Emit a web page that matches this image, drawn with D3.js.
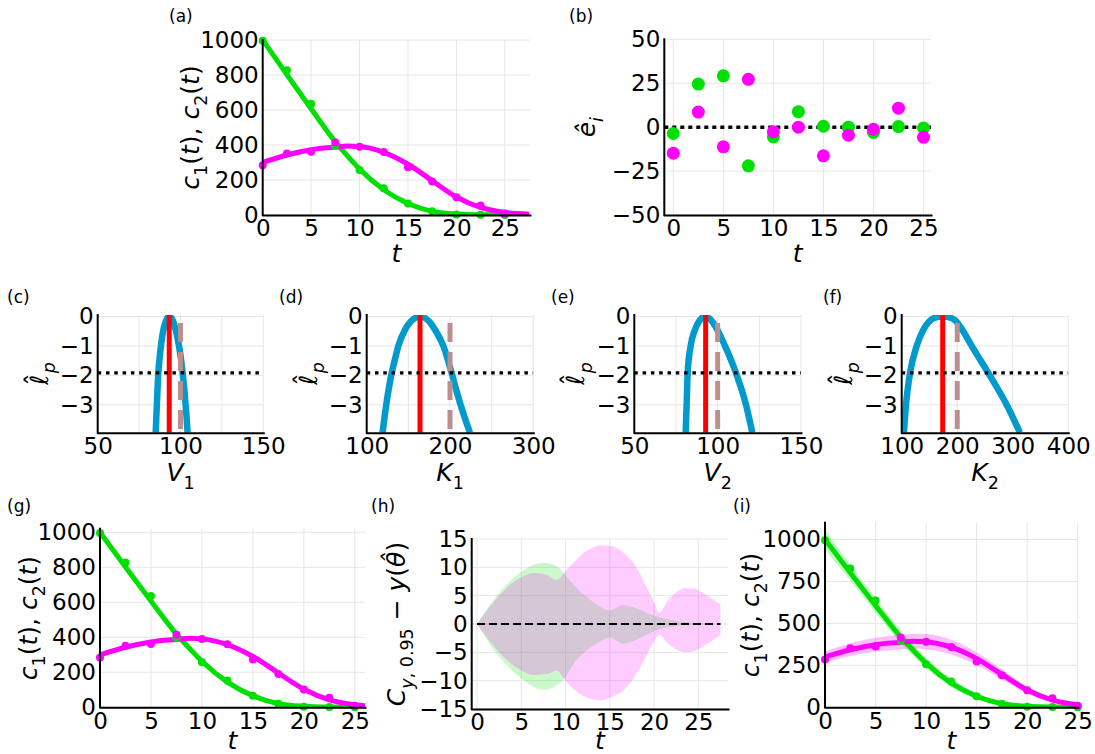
<!DOCTYPE html>
<html lang="en">
<head>
<meta charset="UTF-8" />
<title>Profile likelihood figure</title>
<style>
  body { margin: 0; background: #fff; }
  svg text { font-family: "DejaVu Sans", sans-serif; fill: #000; }
</style>
</head>
<body>
<script src="https://cdn.jsdelivr.net/npm/d3@7"></script>
<script>
// --- data ---
var tObs = [0, 2.5, 5, 7.5, 10, 12.5, 15, 17.5, 20, 22.5, 25];
var c1Obs = [996, 827, 636, 396, 257, 153, 66, 21, 3, 2, 0];
var c2Obs = [285, 352, 362, 414, 390, 360, 273, 191, 102, 54, 9];

// residuals, panel (b)
var e1 = [-3.6, 24.5, 29.2, -22, -5.5, 8.8, 0.5, 0, -3, 0.3, -0.5];
var e2 = [-14.8, 8.6, -11.2, 27.2, -2.6, 0, -16.3, -4.6, -1.2, 10.8, -5.8];

// fitted model curves
var tFit = [0, 2.5, 5, 7.5, 8.75, 10, 12.5, 15, 17.5, 20, 22.5, 25, 27.5];
var c1Fit = [1000, 802, 607, 418, 338, 263, 144, 66, 21, 6, 1.5, 0.4, 0.1];
var c2Fit = [300, 343, 373, 388, 394, 391, 358, 290, 196, 103, 43, 15, 5];

// prediction bands, panel (i)
var c1Lo = [940, 755, 565, 380, 305, 232, 120, 50, 13, 3, 0.5, 0, 0];
var c1Hi = [1060, 850, 650, 458, 372, 296, 170, 84, 30, 10, 3, 1, 0.3];
var c2Lo = [268, 305, 332, 345, 350, 346, 315, 252, 166, 84, 31, 8, 2];
var c2Hi = [332, 381, 414, 432, 438, 437, 402, 328, 226, 122, 56, 23, 9];

// confidence sets minus MLE solution, panel (h)
var tG = [0, 2.5, 5, 7.5, 9, 10, 11, 12, 13.5, 15, 16.5, 18, 20, 22, 24, 25, 27.5];
var gHi = [0, 5.5, 9.2, 10.8, 10.2, 8.6, 6.8, 5.3, 3.5, 2.4, 3.3, 2.8, 1.5, 0.7, 0.25, 0.1, 0];
var gLo = [0, -5.8, -9.6, -11.6, -10.8, -9.4, -6.8, -5.2, -3.5, -2.4, -3.5, -2.8, -1.3, -0.5, -0.15, -0.05, 0];
var tM = [0, 2.5, 5, 6.5, 8, 9, 10, 11, 12, 13, 14, 15, 16, 17, 18, 19, 20, 20.6, 21.5, 22.5, 23.5, 24.5, 25.5, 26.5, 27.5];
var mHi = [0, 5, 8.3, 9, 8.6, 7.8, 9.3, 11, 12.5, 13.4, 13.9, 13.8, 13.2, 12.0, 10.0, 7.0, 3.8, 2.0, 4.0, 5.6, 6.3, 6.2, 5.5, 4.5, 3.4];
var mLo = [0, -5, -8.2, -9, -8.8, -8.2, -10, -11.6, -12.7, -13.3, -13.5, -13.0, -12.3, -11, -8.8, -6, -3.0, -1.9, -3.3, -4.5, -5.0, -4.8, -4, -3, -1.9];
var tZero = [0, 27.5];

// profile likelihoods
var pV1 = [85.0, 85.8, 86.6, 87.4, 88.3, 89.5, 91.0, 92.2, 93.2, 94.5, 96.0, 97.5, 99.1, 100.3, 101.3, 102.5, 103.5, 104.3];
var lV1 = [-3.95, -2.9, -1.92, -1.4, -0.95, -0.5, -0.18, -0.04, 0, -0.05, -0.24, -0.55, -1.0, -1.45, -1.92, -2.6, -3.3, -3.95];
var pK1 = [119, 124, 130, 134, 138, 146, 152, 158, 164, 170, 176, 182, 192, 202, 208, 216, 224];
var lK1 = [-3.95, -2.9, -1.92, -1.45, -1.0, -0.45, -0.2, -0.05, 0, -0.05, -0.2, -0.45, -1.0, -1.92, -2.55, -3.3, -3.95];
var pV2 = [80.8, 81.4, 82.0, 83.8, 86.4, 89.0, 92.8, 96.0, 99.5, 104.4, 111.0, 117.0, 120.8];
var lV2 = [-3.95, -3.0, -1.92, -1.0, -0.45, -0.15, 0, -0.12, -0.42, -1.0, -1.92, -3.0, -3.95];
var pK2 = [104, 107.7, 115, 127, 139, 151, 162, 173.8, 186, 196, 208, 226, 256, 289, 313];
var lK2 = [-3.95, -3.0, -1.92, -1.0, -0.45, -0.14, -0.03, 0, -0.03, -0.13, -0.42, -1.0, -1.92, -3.0, -3.95];
var mle = [93.2, 164, 92.8, 173.8];
var truth = [100, 200, 100, 200];
var threshold = -1.92;

// --- drawing ---
var GREEN = "#00e000", MAGENTA = "#ff00ff", BLUE = "#009acd", RED = "#ff0000", ROSY = "#bc8f8f";
var tickFont = 23, labFont = 25;

var svg = d3.select("body").append("svg").attr("width", 1095).attr("height", 754);
var defs = svg.append("defs");

// parts: [text, flags]; i = italic, s = subscript, h = hat placed over previous glyph
function richText(sel, parts, size) {
  var shift = 0;
  parts.forEach(function (pt) {
    var st = pt[1] || "";
    var ts = sel.append("tspan").text(pt[0]);
    if (st.indexOf("i") >= 0) ts.attr("font-style", "italic");
    var want = 0;
    if (st.indexOf("s") >= 0) want = size * 0.3;
    if (st.indexOf("h") >= 0) { want = -size * 0.2; ts.attr("dx", -size * 0.44); }
    if (want !== shift) { ts.attr("dy", want - shift); shift = want; }
    if (st.indexOf("s") >= 0) ts.attr("font-size", size * 0.7);
  });
}

function makePanel(p) {
  var x = d3.scaleLinear().domain(p.xd).range([p.left, p.right]);
  var y = d3.scaleLinear().domain(p.yd).range([p.bottom, p.top]);
  var root = svg.append("g");
  var grid = root.append("g").attr("stroke", "#e6e6e6").attr("stroke-width", 1);
  grid.selectAll(".gx").data(p.xgrid || p.xt).enter().append("line")
    .attr("x1", function (d) { return x(d); }).attr("x2", function (d) { return x(d); })
    .attr("y1", p.top).attr("y2", p.bottom);
  grid.selectAll(".gy").data(p.ygrid || p.yt).enter().append("line")
    .attr("y1", function (d) { return y(d); }).attr("y2", function (d) { return y(d); })
    .attr("x1", p.left).attr("x2", p.right);

  defs.append("clipPath").attr("id", "clip-" + p.id).append("rect")
    .attr("x", p.left).attr("y", p.top)
    .attr("width", p.right - p.left).attr("height", p.bottom - p.top);
  var marks = root.append("g").attr("clip-path", "url(#clip-" + p.id + ")");
  var free = root.append("g");
  var axes = root.append("g");

  var ax = axes.append("g").attr("transform", "translate(0," + p.bottom + ")")
    .call(d3.axisBottom(x).tickValues(p.xt).tickSize(0).tickPadding(5).tickFormat(d3.format("d")));
  var ay = axes.append("g").attr("transform", "translate(" + p.left + ",0)")
    .call(d3.axisLeft(y).tickValues(p.yt).tickSize(0).tickPadding(4).tickFormat(d3.format("d")));
  [ax, ay].forEach(function (a) {
    a.attr("font-size", tickFont).attr("font-family", "DejaVu Sans");
    a.select(".domain").attr("stroke", "#000").attr("stroke-width", 2).attr("stroke-linecap", "square");
    a.selectAll("text").attr("fill", "#000");
  });
  ay.select(".domain").attr("d", "M0," + p.bottom + "V" + p.top);

  svg.append("text").attr("x", p.tagX).attr("y", p.tagY).attr("font-size", 17).text(p.tag);

  var xl = svg.append("text").attr("x", (p.left + p.right) / 2).attr("y", p.xlabY)
    .attr("text-anchor", "middle").attr("font-size", labFont);
  richText(xl, p.xlab, labFont);
  var yl = svg.append("text")
    .attr("transform", "translate(" + p.ylabX + "," + (p.top + p.bottom) / 2 + ") rotate(-90)")
    .attr("text-anchor", "middle").attr("font-size", labFont);
  richText(yl, p.ylab, labFont);

  return { x: x, y: y, marks: marks, free: free, p: p };
}

function curve(P, xs, ys, color, width) {
  P.marks.append("path")
    .datum(xs.map(function (d, i) { return [d, ys[i]]; }))
    .attr("fill", "none").attr("stroke", color).attr("stroke-width", width)
    .attr("d", d3.line().x(function (d) { return P.x(d[0]); }).y(function (d) { return P.y(d[1]); })
      .curve(d3.curveMonotoneX));
}

function band(P, xs, lo, hi, color, op) {
  P.marks.append("path")
    .datum(xs.map(function (d, i) { return [d, lo[i], hi[i]]; }))
    .attr("fill", color).attr("fill-opacity", op).attr("stroke", "none")
    .attr("d", d3.area().x(function (d) { return P.x(d[0]); })
      .y0(function (d) { return P.y(d[1]); }).y1(function (d) { return P.y(d[2]); })
      .curve(d3.curveMonotoneX));
}

function dots(P, xs, ys, color, r) {
  P.free.append("g").selectAll("circle").data(xs).enter().append("circle")
    .attr("cx", function (d) { return P.x(d); })
    .attr("cy", function (d, i) { return P.y(ys[i]); })
    .attr("r", r).attr("fill", color);
}

var tTicks = [0, 5, 10, 15, 20, 25];
var cLab = [["c", "i"], ["1", "s"], ["("], ["t", "i"], ["), "], ["c", "i"], ["2", "s"], ["("], ["t", "i"], [")"]];
var tLab = [["t", "i"]];

function concPanel(spec, withBand) {
  var P = makePanel(spec);
  if (withBand) {
    band(P, tFit, c1Lo, c1Hi, GREEN, 0.25);
    band(P, tFit, c2Lo, c2Hi, MAGENTA, 0.25);
  }
  curve(P, tFit, c1Fit, GREEN, 5);
  curve(P, tFit, c2Fit, MAGENTA, 5);
  dots(P, tObs, c1Obs, GREEN, 4);
  dots(P, tObs, c2Obs, MAGENTA, 4);
  return P;
}

// (a)
concPanel({ id: "a", left: 262.7, right: 530, top: 40, bottom: 215, xd: [0, 27.6], yd: [0, 1000],
  xt: tTicks, yt: [0, 200, 400, 600, 800, 1000], tag: "(a)", tagX: 169, tagY: 22,
  xlab: tLab, xlabY: 262, ylab: cLab, ylabX: 199 });

// (b)
var B = makePanel({ id: "b", left: 664.3, right: 931, top: 39.3, bottom: 215, xd: [-0.9, 25.75], yd: [-50, 50],
  xt: tTicks, yt: [-50, -25, 0, 25, 50], tag: "(b)", tagX: 569, tagY: 22,
  xlab: tLab, xlabY: 262, ylab: [["ê", "i"], ["i", "is"]], ylabX: 595 });
B.marks.append("line").attr("x1", B.p.left).attr("x2", B.p.right)
  .attr("y1", B.y(0)).attr("y2", B.y(0))
  .attr("stroke", "#000").attr("stroke-width", 3.5).attr("stroke-dasharray", "4 4");
dots(B, tObs, e1, GREEN, 6.5);
dots(B, tObs, e2, MAGENTA, 6.5);

// (c)-(f) profiles
var lpLab = [["ℓ", "i"], ["ˆ", "h"], ["p", "is"]];
var profiles = [
  { id: "c", left: 97.7, right: 263.3, xd: [50, 150], xgrid: [50, 75, 100, 125, 150], xt: [50, 100, 150],
    tag: "(c)", tagX: 7, xlab: [["V", "i"], ["1", "s"]], px: pV1, py: lV1 },
  { id: "d", left: 366.7, right: 533.3, xd: [100, 300], xgrid: [100, 150, 200, 250, 300], xt: [100, 200, 300],
    tag: "(d)", tagX: 279, xlab: [["K", "i"], ["1", "s"]], px: pK1, py: lK1 },
  { id: "e", left: 634.3, right: 801, xd: [50, 150], xgrid: [50, 75, 100, 125, 150], xt: [50, 100, 150],
    tag: "(e)", tagX: 551, xlab: [["V", "i"], ["2", "s"]], px: pV2, py: lV2 },
  { id: "f", left: 901.7, right: 1068.3, xd: [100, 400], xgrid: [100, 200, 300, 400], xt: [100, 200, 300, 400],
    tag: "(f)", tagX: 823, xlab: [["K", "i"], ["2", "s"]], px: pK2, py: lK2 }
];
profiles.forEach(function (s, k) {
  s.top = 315; s.bottom = 432.7; s.yd = [-3.95, 0.05]; s.yt = [-3, -2, -1, 0];
  s.tagY = 303; s.xlabY = 481; s.ylab = lpLab; s.ylabX = s.left - 50;
  var P = makePanel(s);
  curve(P, s.px, s.py, BLUE, 6.5);
  P.marks.append("line").attr("x1", P.x(mle[k])).attr("x2", P.x(mle[k]))
    .attr("y1", P.y(s.yd[1])).attr("y2", P.y(s.yd[0]))
    .attr("stroke", RED).attr("stroke-width", 5);
  P.marks.append("line").attr("x1", P.x(truth[k])).attr("x2", P.x(truth[k]))
    .attr("y1", P.y(s.yd[1])).attr("y2", P.y(s.yd[0]))
    .attr("stroke", ROSY).attr("stroke-width", 5)
    .attr("stroke-dasharray", "19 10").attr("stroke-dashoffset", 21);
  P.marks.append("line").attr("x1", s.left).attr("x2", s.right)
    .attr("y1", P.y(threshold)).attr("y2", P.y(threshold))
    .attr("stroke", "#000").attr("stroke-width", 3.3).attr("stroke-dasharray", "3.5 4.8");
});

// (g)
concPanel({ id: "g", left: 100, right: 365, top: 528.8, bottom: 707.3, xd: [0, 26], yd: [0, 1020],
  xt: tTicks, yt: [0, 200, 400, 600, 800, 1000], tag: "(g)", tagX: 7, tagY: 512,
  xlab: tLab, xlabY: 749, ylab: cLab, ylabX: 37 });

// (h)
var Hp = makePanel({ id: "h", left: 471.7, right: 728, top: 539, bottom: 709, xd: [-0.6, 28.35], yd: [-15, 15],
  xt: tTicks, yt: [-15, -10, -5, 0, 5, 10, 15], tag: "(h)", tagX: 371, tagY: 512,
  xlab: tLab, xlabY: 749,
  ylab: [["C", "i"], ["y", "is"], [", 0.95", "s"], [" − "], ["y", "i"], ["("], ["θ̂", "i"], [")"]], ylabX: 405 });
band(Hp, tG, gLo, gHi, GREEN, 0.2);
band(Hp, tM, mLo, mHi, MAGENTA, 0.2);
Hp.marks.append("line").attr("x1", Hp.x(tZero[0])).attr("x2", Hp.x(tZero[1]))
  .attr("y1", Hp.y(0)).attr("y2", Hp.y(0))
  .attr("stroke", "#000").attr("stroke-width", 2.2).attr("stroke-dasharray", "8 4");

// (i)
concPanel({ id: "i", left: 825, right: 1078, top: 522.7, bottom: 707.3, xd: [0, 25.03], yd: [0, 1100],
  xt: tTicks, yt: [0, 250, 500, 750, 1000], tag: "(i)", tagX: 733, tagY: 512,
  xlab: tLab, xlabY: 749, ylab: cLab, ylabX: 759 }, true);
</script>
</body>
</html>
